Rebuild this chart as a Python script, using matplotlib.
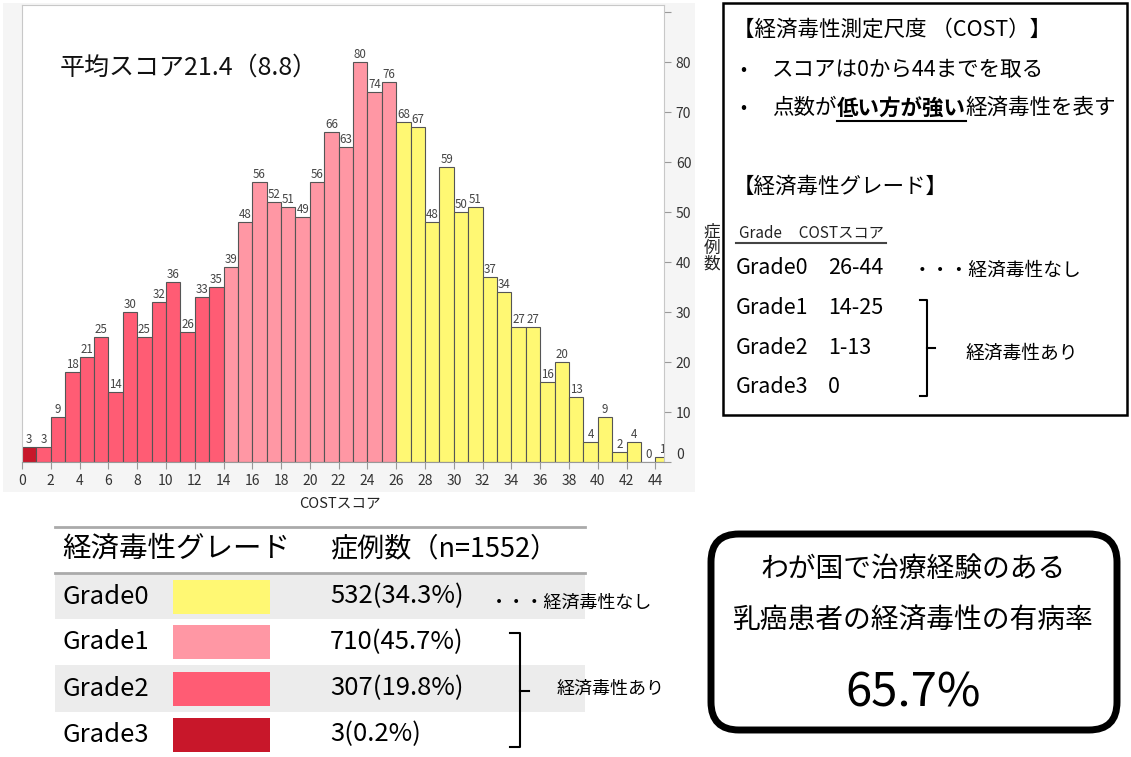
import matplotlib.pyplot as plt
from matplotlib.patches import Rectangle, FancyBboxPatch

plt.rcParams['font.family'] = ['Noto Sans CJK JP', 'DejaVu Sans']

W, H = 1131, 757

# COSTスコア 0..44 の症例数
scores = list(range(45))
counts = [3, 3, 9, 18, 21, 25, 14, 30, 25, 32, 36, 26, 33, 35,
          39, 48, 56, 52, 51, 49, 56, 66, 63, 80, 74, 76,
          68, 67, 48, 59, 50, 51, 37, 34, 27, 27, 16, 20, 13, 4, 9, 2, 4, 0, 1]

grade_names = ['Grade0', 'Grade1', 'Grade2', 'Grade3']
grade_ranges = ['26-44', '14-25', '1-13', '0']
grade_lo = [26, 14, 1, 0]
grade_n = [532, 710, 307, 3]
grade_pct = [34.3, 45.7, 19.8, 0.2]
grade_colors = ['#fff873', '#ff97a4', '#ff5c74', '#c8172a']
n_total = 1552
prevalence = 65.7
mean_score, sd_score = 21.4, 8.8


def grade_of(s):
    for i, lo in enumerate(grade_lo):
        if s >= lo:
            return i
    return 3


def rect(x0, y0, x1, y1):
    # pixel box -> figure fraction
    return [x0 / W, 1 - y1 / H, (x1 - x0) / W, (y1 - y0) / H]


fig = plt.figure(figsize=(W / 100, H / 100), dpi=100)

# 全体を描くキャンバス (ピクセル座標)
cv = fig.add_axes([0, 0, 1, 1], zorder=0)
cv.set_xlim(0, W)
cv.set_ylim(H, 0)
cv.axis('off')

# ヒストグラムの背景パネル
cv.add_patch(Rectangle((3, 3), 692, 489, fc='#f5f5f5', ec='none'))

# ヒストグラム
ax = fig.add_axes(rect(22, 5, 664, 462), zorder=1)
bar_colors = [grade_colors[grade_of(s)] for s in scores]
ax.bar(scores, counts, width=1, align='edge', color=bar_colors,
       edgecolor='#555555', linewidth=0.8)
for s, c in zip(scores, counts):
    ax.text(s + 0.5, c + 0.2, str(c), ha='center', va='bottom',
            fontsize=8.3, color='#444444', clip_on=True)
ax.set_xlim(0, 44.6)
ax.set_ylim(0, 91.4)
ax.set_xticks(range(0, 45, 2))
ax.set_yticks(range(0, 91, 10))
ax.set_yticklabels([str(v) if v < 90 else '' for v in range(0, 91, 10)])
ax.yaxis.tick_right()
ax.tick_params(axis='both', colors='#999999', labelcolor='#333333',
               labelsize=10, length=5)
ax.yaxis.get_major_ticks()[0].label2.set_verticalalignment('bottom')
for side in ['left', 'top', 'right']:
    ax.spines[side].set_color('#c8c8c8')
ax.spines['bottom'].set_color('#999999')

fig.text(60 / W, 1 - 68 / H, f'平均スコア{mean_score}（{sd_score}）',
         fontsize=18, va='center', color='#111111')
cv.text(340, 503, 'COSTスコア', fontsize=10.5, ha='center', va='center',
        color='#222222')
cv.text(712, 248, '症\n例\n数', fontsize=12, ha='center', va='center',
        linespacing=0.95, color='#222222')

# 右上の説明ボックス
cv.add_patch(Rectangle((723, 3), 404, 412, fc='white', ec='black', lw=1.8))
cv.text(733, 30, '【経済毒性測定尺度 （COST）】', fontsize=15.5, va='center')
cv.text(740, 70, '•', fontsize=13, va='center')
cv.text(772, 70, 'スコアは0から44までを取る', fontsize=15.5, va='center')
cv.text(740, 108, '•', fontsize=13, va='center')

fig.canvas.draw()
rend = fig.canvas.get_renderer()
t1 = cv.text(772, 108, '点数が', fontsize=15.5, va='center')
x1 = t1.get_window_extent(rend).x1
t2 = cv.text(x1, 108, '低い方が強い', fontsize=15.5, va='center',
             fontweight='bold')
x2 = t2.get_window_extent(rend).x1
cv.text(x2, 108, '経済毒性を表す', fontsize=15.5, va='center')
cv.plot([x1, x2], [121, 121], color='black', lw=1.5)

cv.text(733, 187, '【経済毒性グレード】', fontsize=15.5, va='center')
t3 = cv.text(739, 233, 'Grade     COSTスコア', fontsize=11, va='center',
             color='#222222')
cv.plot([736, t3.get_window_extent(rend).x1 + 2], [243, 243],
        color='#444444', lw=1.5)
grade_y = [268, 308, 348, 387]
for name, rng, y in zip(grade_names, grade_ranges, grade_y):
    cv.text(736, y, name, fontsize=15.5, va='center')
    cv.text(828, y, rng, fontsize=15.5, va='center')
cv.text(913, 270, '・・・経済毒性なし', fontsize=13.5, va='center')
cv.plot([920, 927, 927, 920], [300, 300, 396, 396], color='black', lw=1.5)
cv.plot([927, 935], [348, 348], color='black', lw=1.5)
cv.text(966, 353, '経済毒性あり', fontsize=13.5, va='center')

# 下の表
row_top = [574, 619, 665, 712]
row_bot = [619, 665, 712, 757]
for i in range(4):
    if i % 2 == 0:
        cv.add_patch(Rectangle((55, row_top[i]), 530, row_bot[i] - row_top[i],
                               fc='#ececec', ec='none'))
cv.plot([55, 585], [527, 527], color='#aaaaaa', lw=2)
cv.plot([55, 585], [573, 573], color='#aaaaaa', lw=2)
cv.text(62, 549, '経済毒性グレード', fontsize=20.5, va='center')
cv.text(330, 549, f'症例数（n={n_total}）', fontsize=19.5, va='center')
for i in range(4):
    yc = (row_top[i] + row_bot[i]) / 2
    cv.text(62, yc, grade_names[i], fontsize=18.5, va='center')
    cv.add_patch(Rectangle((173, yc - 17), 97, 34, fc=grade_colors[i],
                           ec='none'))
    cv.text(330, yc, f'{grade_n[i]}({grade_pct[i]}%)', fontsize=18.5,
            va='center')
cv.text(490, 603, '・・・経済毒性なし', fontsize=13, va='center')
cv.plot([510, 520, 520, 510], [633, 633, 747, 747], color='black', lw=1.5)
cv.plot([520, 529], [691, 691], color='black', lw=1.5)
cv.text(557, 689, '経済毒性あり', fontsize=13, va='center')

# 右下の有病率ボックス
cv.add_patch(FancyBboxPatch((711, 534), 406, 196,
                            boxstyle='round,pad=0,rounding_size=28',
                            fc='white', ec='black', lw=5))
cv.text(913, 569, 'わが国で治療経験のある', fontsize=20, ha='center',
        va='center')
cv.text(913, 621, '乳癌患者の経済毒性の有病率', fontsize=20, ha='center',
        va='center')
cv.text(913, 693, f'{prevalence}%', fontsize=34, ha='center', va='center')

fig.savefig('out.png', dpi=100)
